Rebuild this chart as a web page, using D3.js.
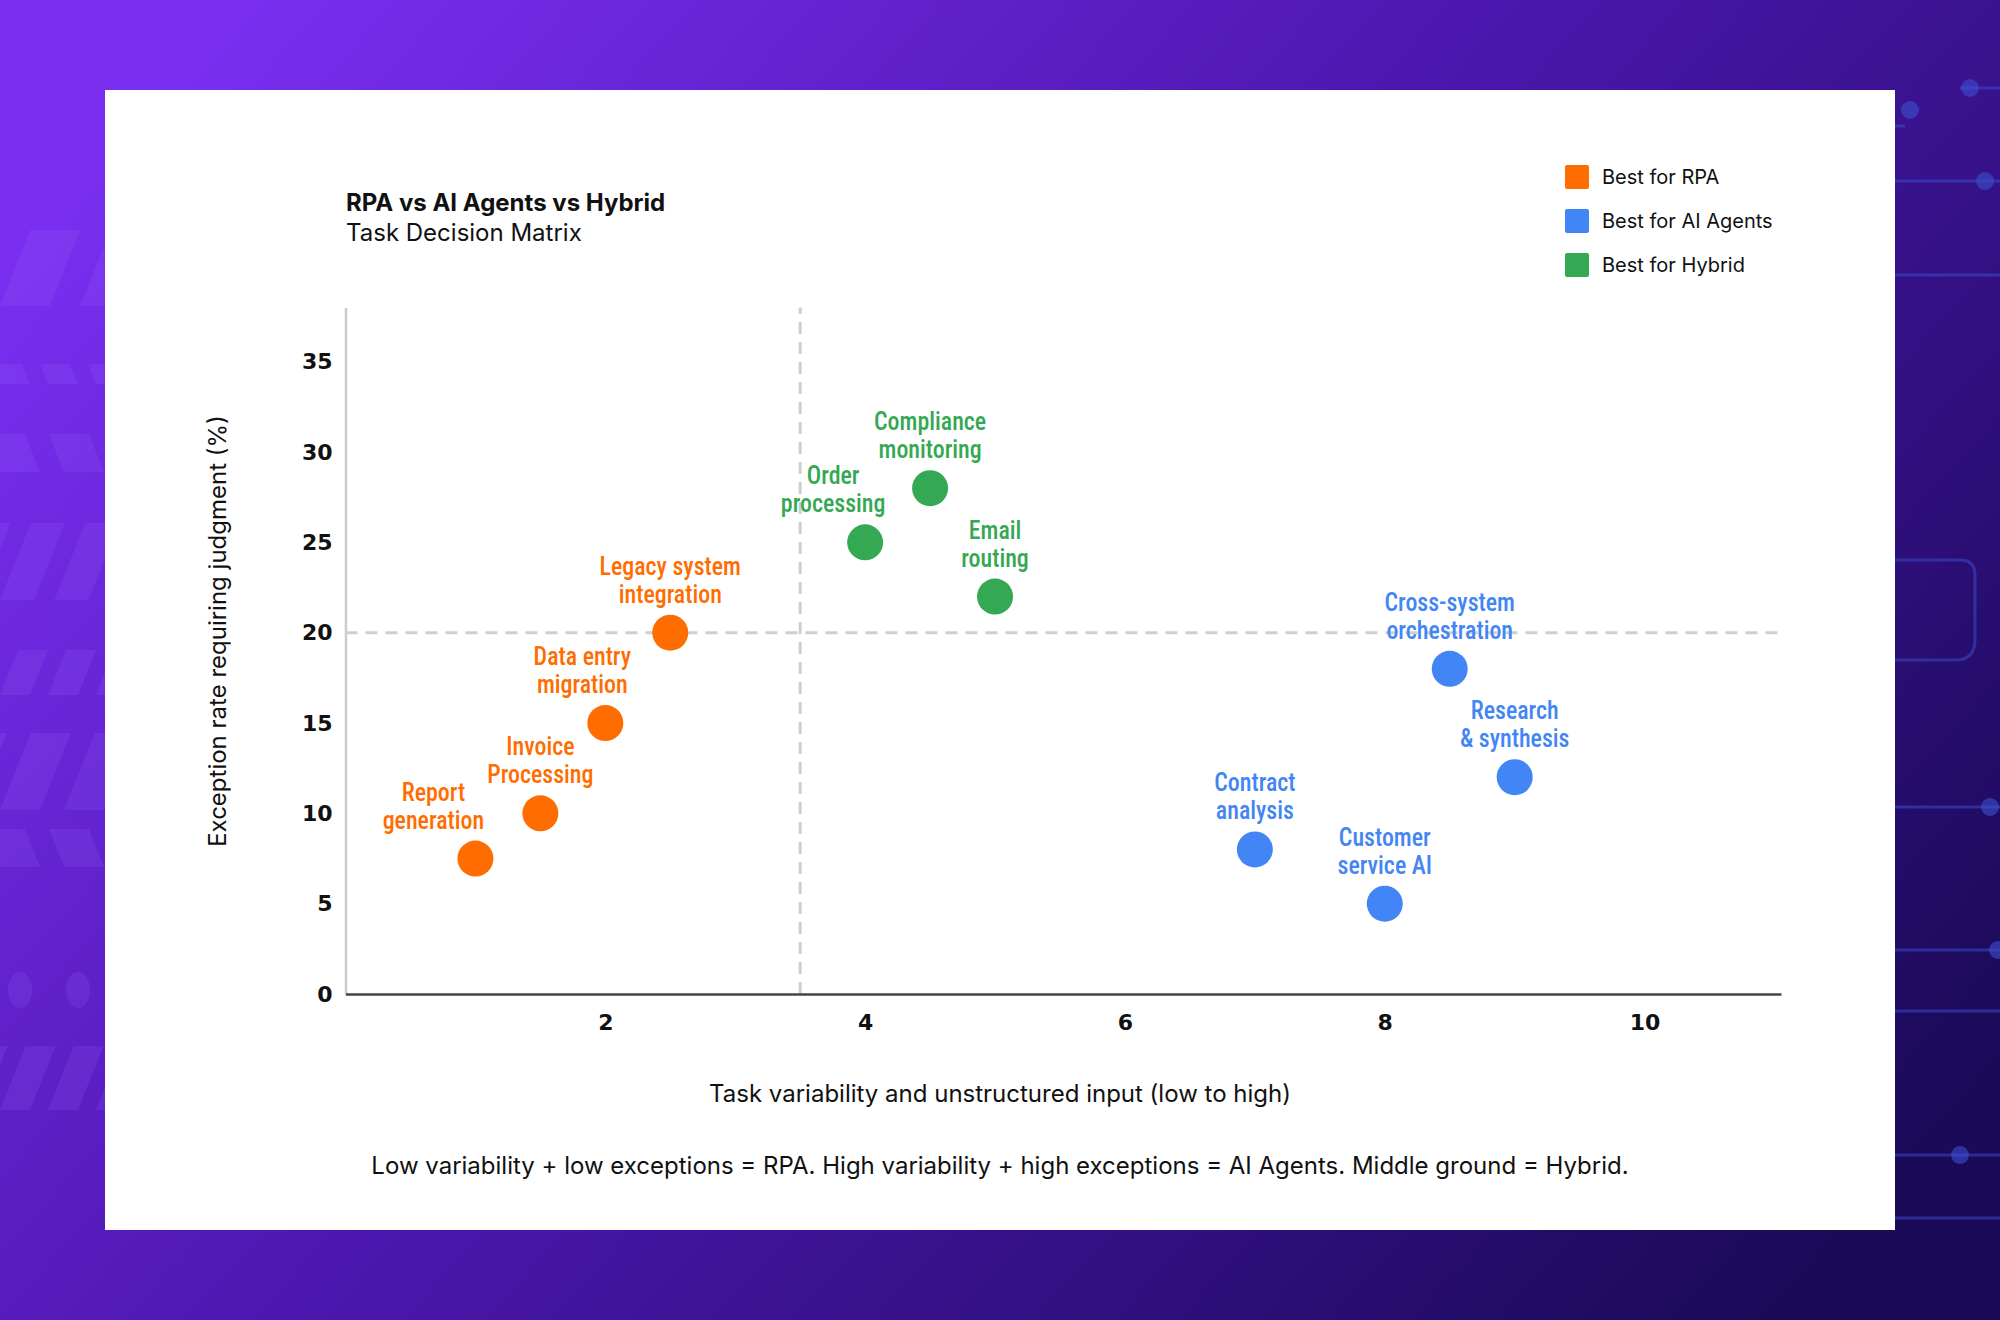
<!DOCTYPE html>
<html>
<head>
<meta charset="utf-8">
<script src="https://cdn.jsdelivr.net/npm/d3@7"></script>
<style>
  body { margin: 0; background: #3a1496; }
  svg { display: block; }
</style>
</head>
<body>
<svg id="chart" width="2000" height="1320"></svg>
<script>
// chart data
var tasks = ['Report|generation', 'Invoice|Processing', 'Data entry|migration', 'Legacy system|integration',
  'Order|processing', 'Compliance|monitoring', 'Email|routing',
  'Cross-system|orchestration', 'Research|& synthesis', 'Contract|analysis', 'Customer|service AI'];
var variability = [1, 1.5, 2, 2.5, 4, 4.5, 5, 8.5, 9, 7, 8];
var exceptionRate = [7.5, 10, 15, 20, 25, 28, 22, 18, 12, 8, 5];
var fit = ['rpa', 'rpa', 'rpa', 'rpa', 'hybrid', 'hybrid', 'hybrid', 'ai', 'ai', 'ai', 'ai'];
var categories = ['rpa', 'ai', 'hybrid'];
var legendLabels = ['Best for RPA', 'Best for AI Agents', 'Best for Hybrid'];
var xTicks = [2, 4, 6, 8, 10];
var yTicks = [0, 5, 10, 15, 20, 25, 30, 35];
var splitX = 3.5, splitY = 20;
var xMax = 11.05, yMax = 38;

// label nudges (px) so the labels do not collide
var labelDx = [-42, 0, -23, 0, -32, 0, 0, 0, 0, 0, 0];

var svg = d3.select('#chart');
var W = 2000, H = 1320;
var color = d3.scaleOrdinal().domain(categories).range(['#ff6d00', '#4285f4', '#34a853']);

// ---- background ----
var defs = svg.append('defs');
var grad = defs.append('linearGradient').attr('id', 'bg')
  .attr('x1', 0).attr('y1', 0.2).attr('x2', 1).attr('y2', 0.8);
grad.append('stop').attr('offset', '0%').attr('stop-color', '#7a2ff0');
grad.append('stop').attr('offset', '45%').attr('stop-color', '#4d17b0');
grad.append('stop').attr('offset', '100%').attr('stop-color', '#1a0a58');
svg.append('rect').attr('width', W).attr('height', H).attr('fill', 'url(#bg)');

// left stripe decoration
var deco = svg.append('g').attr('fill', '#9a6bff').attr('opacity', 0.16);
[[230, 76, 50, 1], [364, 20, 30, -1], [434, 38, 40, -1], [523, 77, 34, 1], [650, 45, 30, 1],
  [733, 77, 40, 1], [829, 38, 40, -1], [1046, 64, 30, 1]]
  .forEach(function (r) {
    for (var k = -1; k < 4; k++) {
      var x0 = k * r[2] * 1.6, y0 = r[0], h = r[1], s = h * 0.4 * r[3];
      deco.append('path').attr('d', 'M' + (x0 + s) + ',' + y0 + 'L' + (x0 + s + r[2]) + ',' + y0 +
        'L' + (x0 + r[2]) + ',' + (y0 + h) + 'L' + x0 + ',' + (y0 + h) + 'Z');
    }
  });
deco.append('ellipse').attr('cx', 20).attr('cy', 990).attr('rx', 12).attr('ry', 18);
deco.append('ellipse').attr('cx', 78).attr('cy', 990).attr('rx', 12).attr('ry', 18);

// right circuit decoration
var circ = svg.append('g').attr('stroke', '#3d4fd0').attr('stroke-width', 3).attr('fill', 'none').attr('opacity', 0.5);
circ.append('path').attr('d', 'M1130,160 L1130,142 Q1130,126 1150,126 L1905,126');
circ.append('path').attr('d', 'M1960,88 L2000,88');
[181, 275, 807, 950, 1011, 1155, 1218].forEach(function (yy) {
  circ.append('path').attr('d', 'M1895,' + yy + ' L2000,' + yy);
});
circ.append('path').attr('d', 'M1895,560 L1960,560 Q1975,560 1975,575 L1975,640 Q1975,660 1955,660 L1895,660');
var dots = svg.append('g').attr('fill', '#3d4fd0').attr('opacity', 0.6);
[[1910, 110], [1970, 88], [1985, 181], [1990, 807], [1960, 1155], [1998, 950]].forEach(function (p) {
  dots.append('circle').attr('cx', p[0]).attr('cy', p[1]).attr('r', 9);
});

// ---- card ----
svg.append('rect').attr('x', 105).attr('y', 90).attr('width', 1790).attr('height', 1140).attr('fill', '#ffffff');

// titles
svg.append('text').attr('x', 346).attr('y', 211).text('RPA vs AI Agents vs Hybrid')
  .attr('font-family', 'Inter, sans-serif').attr('font-weight', 700).attr('font-size', 24).attr('fill', '#111');
svg.append('text').attr('x', 346).attr('y', 241).text('Task Decision Matrix')
  .attr('font-family', 'Inter, sans-serif').attr('font-size', 24).attr('fill', '#111');

// legend
var legend = svg.append('g').attr('transform', 'translate(1565,165)');
categories.forEach(function (c, i) {
  var g = legend.append('g').attr('transform', 'translate(0,' + (i * 44) + ')');
  g.append('rect').attr('width', 24).attr('height', 24).attr('rx', 2).attr('fill', color(c));
  g.append('text').attr('x', 37).attr('y', 19).text(legendLabels[i])
    .attr('font-family', 'Inter, sans-serif').attr('font-size', 20).attr('fill', '#111');
});

// ---- scales / axes ----
var x = d3.scaleLinear().domain([0, xMax]).range([345.5, 1781]);
var y = d3.scaleLinear().domain([0, yMax]).range([994, 307.5]);

var plot = svg.append('g');

plot.append('line')
  .attr('x1', x(0)).attr('x2', x(xMax)).attr('y1', y(splitY)).attr('y2', y(splitY))
  .attr('stroke', '#cfcfcf').attr('stroke-width', 3).attr('stroke-dasharray', '12 8');
plot.append('line')
  .attr('x1', x(splitX)).attr('x2', x(splitX)).attr('y1', y(0)).attr('y2', y(yMax))
  .attr('stroke', '#cfcfcf').attr('stroke-width', 3).attr('stroke-dasharray', '12 8');

var yAxis = plot.append('g').attr('transform', 'translate(' + x(0) + ',0)')
  .call(d3.axisLeft(y).tickValues(yTicks).tickSize(0).tickSizeOuter(0).tickPadding(13));
yAxis.select('.domain').attr('stroke', '#cccccc').attr('stroke-width', 2.5);
yAxis.selectAll('text').attr('font-family', '"DejaVu Sans", sans-serif').attr('font-weight', 700)
  .attr('font-size', 22).attr('fill', '#111');

var xAxis = plot.append('g').attr('transform', 'translate(0,' + y(0) + ')')
  .call(d3.axisBottom(x).tickValues(xTicks).tickSize(0).tickSizeOuter(0).tickPadding(20));
xAxis.select('.domain').attr('stroke', '#444').attr('stroke-width', 2.5);
xAxis.selectAll('text').attr('font-family', '"DejaVu Sans", sans-serif').attr('font-weight', 700)
  .attr('font-size', 22).attr('fill', '#111');

// axis titles
svg.append('text').attr('transform', 'translate(218,631) rotate(-90)')
  .attr('text-anchor', 'middle').attr('dy', '0.35em')
  .text('Exception rate requiring judgment (%)')
  .attr('font-family', 'Inter, sans-serif').attr('font-size', 24).attr('fill', '#111');
svg.append('text').attr('x', 1000).attr('y', 1102).attr('text-anchor', 'middle')
  .text('Task variability and unstructured input (low to high)')
  .attr('font-family', 'Inter, sans-serif').attr('font-size', 24).attr('fill', '#111');
svg.append('text').attr('x', 1000).attr('y', 1174).attr('text-anchor', 'middle')
  .text('Low variability + low exceptions = RPA. High variability + high exceptions = AI Agents. Middle ground = Hybrid.')
  .attr('font-family', 'Inter, sans-serif').attr('font-size', 24).attr('fill', '#111');

// ---- points ----
var idx = d3.range(tasks.length);
plot.selectAll('circle.pt').data(idx).enter().append('circle').attr('class', 'pt')
  .attr('cx', function (i) { return x(variability[i]); })
  .attr('cy', function (i) { return y(exceptionRate[i]); })
  .attr('r', 18)
  .attr('fill', function (i) { return color(fit[i]); });

var labels = plot.selectAll('g.lbl').data(idx).enter().append('g').attr('class', 'lbl')
  .attr('transform', function (i) {
    return 'translate(' + (x(variability[i]) + labelDx[i]) + ',' + y(exceptionRate[i]) + ')';
  });
labels.each(function (i) {
  var g = d3.select(this);
  var lines = tasks[i].split('|');
  lines.forEach(function (t, k) {
    g.append('text').attr('transform', 'translate(0,' + (-58 + k * 28) + ') scale(0.92,1)')
      .attr('text-anchor', 'middle').text(t)
      .attr('font-family', '"Roboto Condensed", "Liberation Sans Narrow", Roboto, sans-serif')
      .attr('font-weight', 500).attr('font-size', 26).attr('fill', color(fit[i]));
  });
});
</script>
</body>
</html>
